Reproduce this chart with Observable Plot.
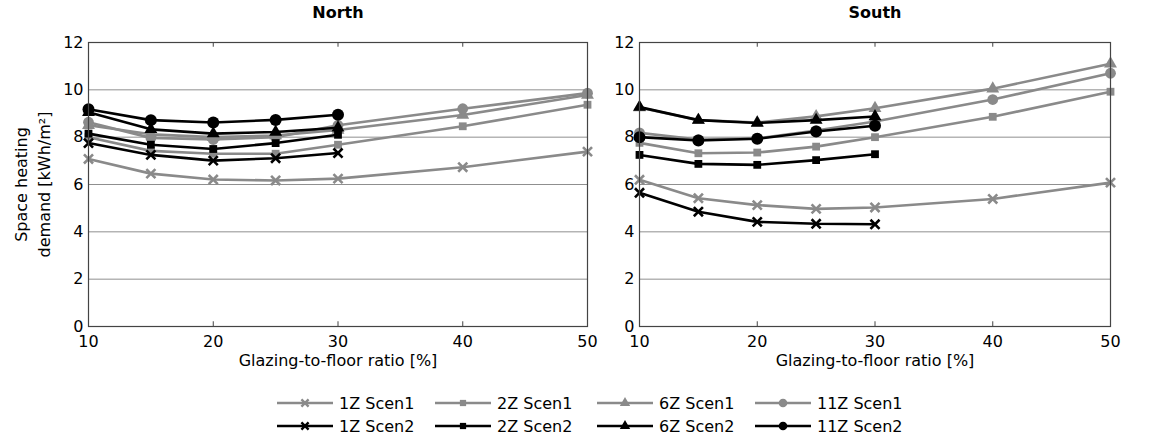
<!DOCTYPE html>
<html><head><meta charset="utf-8">
<script src="https://cdn.jsdelivr.net/npm/d3@7"></script>
<script src="https://cdn.jsdelivr.net/npm/@observablehq/plot@0.6"></script>
<style>
body{margin:0;background:#fff;font-family:"DejaVu Sans",sans-serif;}
#wrap{position:relative;width:1153px;height:440px;overflow:hidden;background:#fff}
#north{position:absolute;left:0;top:0}
#south{position:absolute;left:600px;top:0}
.lg{position:absolute;display:flex;align-items:center;font-size:16px;color:#000;white-space:nowrap;height:20px}
.lg svg{margin-right:6px}
</style></head>
<body><div id="wrap"><div id="north"></div><div id="south"></div><div id="legend"></div></div>
<script>
// ---- data ----
const ratios = [10, 15, 20, 25, 30, 40, 50];
const seriesNames = ["1Z Scen1","2Z Scen1","6Z Scen1","11Z Scen1","1Z Scen2","2Z Scen2","6Z Scen2","11Z Scen2"];
const yTicks = [0, 2, 4, 6, 8, 10, 12];
const xTicks = [10, 20, 30, 40, 50];

const north1Z_S1  = [7.08, 6.46, 6.21, 6.17, 6.25, 6.73, 7.39];
const north2Z_S1  = [8.00, 7.42, 7.30, 7.30, 7.68, 8.46, 9.37];
const north6Z_S1  = [8.50, 8.12, 8.00, 8.07, 8.30, 8.94, 9.78];
const north11Z_S1 = [8.63, 7.97, 7.90, 8.00, 8.50, 9.20, 9.86];
const north1Z_S2  = [7.75, 7.25, 7.01, 7.11, 7.33];
const north2Z_S2  = [8.15, 7.68, 7.50, 7.75, 8.10];
const north6Z_S2  = [9.05, 8.33, 8.15, 8.22, 8.40];
const north11Z_S2 = [9.18, 8.72, 8.62, 8.73, 8.95];

const south1Z_S1  = [6.20, 5.42, 5.13, 4.97, 5.03, 5.39, 6.08];
const south2Z_S1  = [7.76, 7.32, 7.35, 7.60, 8.00, 8.86, 9.92];
const south6Z_S1  = [9.25, 8.72, 8.62, 8.88, 9.22, 10.05, 11.10];
const south11Z_S1 = [8.18, 7.90, 7.95, 8.28, 8.66, 9.59, 10.70];
const south1Z_S2  = [5.65, 4.85, 4.42, 4.34, 4.32];
const south2Z_S2  = [7.25, 6.87, 6.83, 7.03, 7.28];
const south6Z_S2  = [9.27, 8.72, 8.60, 8.72, 8.87];
const south11Z_S2 = [8.00, 7.86, 7.93, 8.24, 8.48];

// ---- styling ----
const FONT = "'DejaVu Sans', sans-serif";
const GRAY = "#8a8a8a", BLACK = "#000";
const symbolOf = {"1Z":"times","2Z":"square","6Z":"triangle","11Z":"circle"};
const rOf = {"1Z":4.2,"2Z":4.4,"6Z":4.8,"11Z":5.4};

function rows(arrs) {
  return seriesNames.map((name, i) => {
    const [zone, scen] = name.split(" ");
    return {name, zone, scen, pts: arrs[i].map((v, j) => ({x: ratios[j], y: v, name}))};
  });
}
const northRows = rows([north1Z_S1,north2Z_S1,north6Z_S1,north11Z_S1,north1Z_S2,north2Z_S2,north6Z_S2,north11Z_S2]);
const southRows = rows([south1Z_S1,south2Z_S1,south6Z_S1,south11Z_S1,south1Z_S2,south2Z_S2,south6Z_S2,south11Z_S2]);

function seriesMarks(s) {
  const color = s.scen === "Scen1" ? GRAY : BLACK;
  const sym = symbolOf[s.zone];
  const r = rOf[s.zone] + (s.scen === "Scen2" && s.zone === "11Z" ? 0.6 : 0);
  const marks = [Plot.line(s.pts, {x: "x", y: "y", stroke: color, strokeWidth: 2.6})];
  if (sym === "times") marks.push(Plot.dot(s.pts, {x: "x", y: "y", symbol: "times", r, stroke: color, strokeWidth: 2.6}));
  else marks.push(Plot.dot(s.pts, {x: "x", y: "y", symbol: sym, r, fill: color, stroke: "none"}));
  return marks;
}

function panel(data, title, width, mL, mR, withYLabel) {
  const order = [...data.filter(d => d.scen === "Scen1"), ...data.filter(d => d.scen === "Scen2")];
  return Plot.plot({
    width, height: 380,
    marginLeft: mL, marginRight: mR, marginTop: 42, marginBottom: 54,
    style: {fontFamily: FONT, fontSize: "16px", color: "#000", background: "transparent", overflow: "visible"},
    x: {domain: [10, 50]},
    y: {domain: [0, 12]},
    marks: [
      Plot.gridY(yTicks, {stroke: "#8f8f8f", strokeOpacity: 1, strokeWidth: 1}),
      Plot.ruleX(xTicks, {x: d => d, y1: 0, y2: 0.2, stroke: "#444"}),
      Plot.ruleX(xTicks, {x: d => d, y1: 12, y2: 11.8, stroke: "#444"}),
      ...order.flatMap(seriesMarks),
      Plot.frame({stroke: "#444", strokeWidth: 1.2}),
      Plot.axisX(xTicks, {tickSize: 0, tickPadding: 9, label: null, fontSize: 16}),
      Plot.axisY(yTicks, {tickSize: 0, tickPadding: 5, label: null, fontSize: 16}),
      Plot.text([title], {frameAnchor: "top", dy: -30, lineAnchor: "middle", text: d => d, fontWeight: "bold", fontSize: 16}),
      Plot.text(["Glazing-to-floor ratio [%]"], {frameAnchor: "bottom", dy: 39, text: d => d, fontSize: 16}),
      ...(withYLabel ? [Plot.text(["Space heating\ndemand [kWh/m\u00b2]"], {frameAnchor: "left", dx: -57, rotate: -90, textAnchor: "middle", lineAnchor: "middle", text: d => d, fontSize: 16, lineHeight: 1.4})] : [])
    ]
  });
}

document.getElementById("north").append(panel(northRows, "North", 600, 88, 13, true));
document.getElementById("south").append(panel(southRows, "South", 553, 39, 43, false));

// ---- legend ----
const legend = document.getElementById("legend");
const cols = [277, 435, 597, 755];
const rowsY = [403, 426];
const symMap = {times: d3.symbolTimes, square: d3.symbolSquare, triangle: d3.symbolTriangle, circle: d3.symbolCircle};
seriesNames.forEach((name, i) => {
  const [zone, scen] = name.split(" ");
  const color = scen === "Scen1" ? GRAY : BLACK;
  const sym = symbolOf[zone];
  const r = rOf[zone] * 0.8;
  const path = d3.symbol(symMap[sym], Math.PI * r * r)();
  const div = document.createElement("div");
  div.className = "lg";
  div.style.left = cols[i % 4] + "px";
  div.style.top = (rowsY[Math.floor(i / 4)] - 10) + "px";
  const markAttr = sym === "times" ? `fill="none" stroke="${color}" stroke-width="2.4"` : `fill="${color}"`;
  div.innerHTML = `<svg width="56" height="20"><line x1="0" x2="56" y1="10" y2="10" stroke="${color}" stroke-width="2.6"/><path transform="translate(28,10)" d="${path}" ${markAttr}/></svg><span>${name}</span>`;
  legend.append(div);
});
</script>
</body></html>
